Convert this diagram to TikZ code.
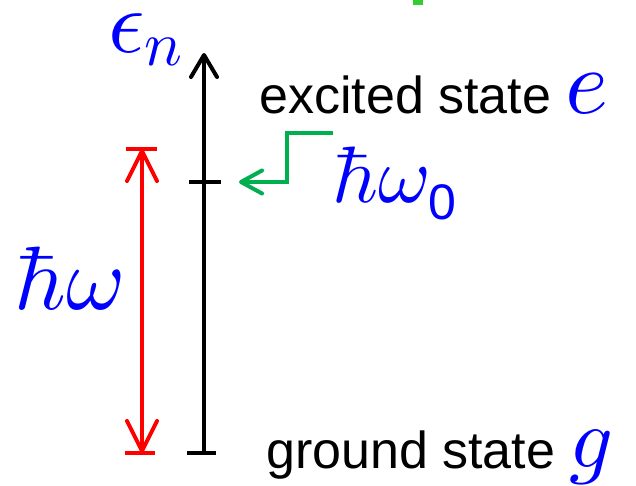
\documentclass[tikz,border=0pt]{standalone}
\usepackage[no-math]{fontspec}
\setmainfont{Liberation Sans}
\DeclareFontShape{OML}{cmm}{m}{it}{<-> cmmi10}{}
\DeclareFontShape{OT1}{cmr}{m}{n}{<-> cmr10}{}
\DeclareFontShape{OMS}{cmsy}{m}{n}{<-> cmsy10}{}
\usetikzlibrary{arrows.meta}
\definecolor{mblue}{RGB}{0,0,255}
\definecolor{mred}{RGB}{255,0,0}
\definecolor{mgreen}{RGB}{0,176,80}
\definecolor{lgreen}{RGB}{50,205,50}
\newcommand\msz[1]{\fontsize{#1}{#1}\selectfont}
\begin{document}
\begin{tikzpicture}[x=1pt,y=-1pt,
  axisline/.style={line width=4pt,black},
  redline/.style={line width=4pt,mred},
  greenline/.style={line width=4pt,mgreen},
  blacktip/.style={-{Straight Barb[length=22pt,width=26pt,line cap=round,line join=round]}},
  redtips/.style={{Straight Barb[length=30pt,width=30pt,line cap=round,line join=round]}-{Straight Barb[length=30pt,width=30pt,line cap=round,line join=round]}},
  greentip/.style={-{Straight Barb[length=21pt,width=23pt,line cap=round,line join=round]}},
  txt/.style={anchor=base west,inner sep=0pt,font=\msz{52}},
  mth/.style={anchor=base west,inner sep=0pt,text=mblue}]
\useasboundingbox (0,0) rectangle (636,485);
% stray green fragment at top
\fill[lgreen] (413,0) rectangle (423,5);
% axis
\coordinate (top) at (204,53);
\coordinate (bot) at (204,453);
\coordinate (mid) at (204,182);
\draw[axisline,blacktip] (bot) -- (top);
\draw[axisline] ([xshift=-17pt]bot) -- ([xshift=12pt]bot);
\draw[axisline] ([xshift=-15pt]mid) -- ([xshift=17pt]mid);
% red double arrow
\coordinate (rt) at (142,149);
\coordinate (rb) at (142,453);
\draw[redline,redtips] (rt) -- (rb);
\draw[redline] ([xshift=-16pt]rt) -- ([xshift=15pt]rt);
\draw[redline] ([xshift=-17pt]rb) -- ([xshift=13pt]rb);
% labels
\node[mth] (eps) at (108,52) {\msz{90}$\epsilon_n$};
\node[txt] (exc) at (259,113) {excited state};
\node[mth] (e) at (565,113) {\msz{92}$e$};
\node[mth] (hw0) at (332,202) {\msz{80}$\hbar\omega_{\raisebox{-5pt}{\msz{50}0}}$};
\node[mth] (hw) at (14,309) {\msz{90}$\hbar\omega$};
\node[txt] (gnd) at (266,468) {ground state};
\node[mth] (g) at (569,467) {\msz{86}$g$};
% green pointer
\coordinate (gs) at (333,133);
\coordinate (gk) at (287,133);
\coordinate (gt) at (239,182);
\draw[greenline,greentip] (gs) -- (gk) |- (gt);
\end{tikzpicture}
\end{document}
